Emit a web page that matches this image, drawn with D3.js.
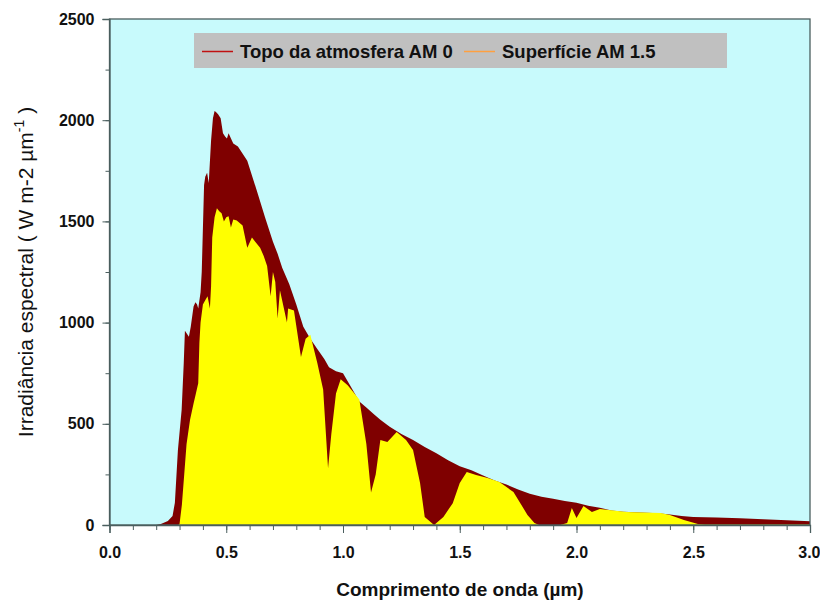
<!DOCTYPE html>
<html>
<head>
<meta charset="utf-8">
<script src="https://cdn.jsdelivr.net/npm/d3@7"></script>
<style>
  html, body { margin: 0; padding: 0; background: #ffffff; }
  svg { display: block; }
  text { font-family: "Liberation Sans", Arial, sans-serif; }
</style>
</head>
<body>
<svg id="chart" width="820" height="601"></svg>
<script>
// Extraterrestrial spectrum (AM 0): wavelength (µm) and irradiance (W m-2 µm-1)
const wlAM0 = [0.00, 0.20, 0.22, 0.25, 0.27, 0.28, 0.293, 0.309, 0.318, 0.323, 0.34, 0.348, 0.36, 0.368, 0.375, 0.38, 0.39, 0.395, 0.405, 0.41, 0.418, 0.425, 0.435, 0.443, 0.45, 0.456, 0.465, 0.476, 0.486, 0.495, 0.503, 0.51, 0.53, 0.55, 0.59, 0.63, 0.666, 0.70, 0.72, 0.74, 0.77, 0.80, 0.83, 0.86, 0.89, 0.92, 0.94, 0.97, 1.00, 1.03, 1.07, 1.10, 1.13, 1.16, 1.20, 1.25, 1.30, 1.35, 1.40, 1.45, 1.50, 1.55, 1.60, 1.65, 1.70, 1.75, 1.80, 1.85, 1.90, 1.95, 2.00, 2.05, 2.10, 2.15, 2.20, 2.30, 2.35, 2.40, 2.45, 2.50, 2.60, 2.70, 2.80, 2.90, 3.00];
const irrAM0 = [0, 0, 5, 20, 45, 110, 370, 570, 800, 960, 930, 980, 1080, 1100, 1090, 1070, 1150, 1250, 1680, 1720, 1740, 1690, 1900, 2010, 2045, 2040, 2030, 2010, 1935, 1920, 1910, 1935, 1885, 1870, 1800, 1655, 1520, 1400, 1340, 1270, 1190, 1090, 980, 920, 870, 820, 780, 760, 750, 690, 610, 580, 550, 520, 485, 450, 420, 385, 355, 320, 290, 270, 245, 220, 200, 175, 155, 140, 130, 118, 110, 95, 85, 72, 65, 60, 58, 52, 45, 40, 37, 33, 28, 23, 18];

// Ground-level spectrum (AM 1.5)
const wlAM15 = [0.00, 0.295, 0.30, 0.31, 0.32, 0.33, 0.345, 0.36, 0.37, 0.38, 0.385, 0.39, 0.40, 0.41, 0.42, 0.43, 0.435, 0.44, 0.45, 0.46, 0.47, 0.48, 0.49, 0.50, 0.51, 0.52, 0.53, 0.545, 0.57, 0.59, 0.61, 0.645, 0.66, 0.675, 0.69, 0.70, 0.71, 0.72, 0.73, 0.76, 0.765, 0.79, 0.82, 0.84, 0.86, 0.89, 0.915, 0.936, 0.95, 0.97, 0.99, 1.02, 1.07, 1.10, 1.12, 1.14, 1.16, 1.19, 1.23, 1.27, 1.30, 1.33, 1.35, 1.39, 1.43, 1.47, 1.50, 1.53, 1.57, 1.62, 1.67, 1.73, 1.79, 1.82, 1.84, 1.93, 1.96, 1.98, 2.00, 2.03, 2.066, 2.10, 2.215, 2.36, 2.40, 2.46, 2.52, 2.55, 3.00];
const irrAM15 = [0, 0, 5, 100, 250, 400, 520, 600, 650, 700, 900, 1000, 1090, 1110, 1130, 1070, 1180, 1420, 1520, 1565, 1550, 1540, 1500, 1520, 1525, 1470, 1510, 1505, 1480, 1370, 1420, 1370, 1330, 1280, 1130, 1250, 1200, 1020, 1160, 1000, 1070, 1060, 830, 920, 940, 800, 670, 280, 450, 650, 720, 690, 620, 400, 160, 250, 420, 410, 460, 420, 370, 207, 40, 0, 40, 108, 207, 262, 247, 232, 212, 163, 50, 10, 0, 0, 10, 84, 35, 94, 64, 79, 64, 59, 50, 25, 5, 2, 2];

const xTicks = [0.0, 0.5, 1.0, 1.5, 2.0, 2.5, 3.0];
const yTicks = [0, 500, 1000, 1500, 2000, 2500];
const seriesNames = ["Topo da atmosfera AM 0", "Superfície AM 1.5"];

const svg = d3.select("#chart");
const plotLeft = 109.5, plotRight = 810, plotTop = 19, plotBottom = 525;

const x = d3.scaleLinear().domain([0, 3]).range([plotLeft, plotRight]);
const y = d3.scaleLinear().domain([0, 2500]).range([plotBottom, plotTop]);

// plot background
svg.append("rect")
  .attr("x", plotLeft).attr("y", plotTop)
  .attr("width", plotRight - plotLeft).attr("height", plotBottom - plotTop)
  .attr("fill", "#c8fafc");

const area = d3.area()
  .x(d => x(d[0]))
  .y0(y(0))
  .y1(d => y(d[1]));

svg.append("path")
  .datum(d3.zip(wlAM0, irrAM0))
  .attr("d", area)
  .attr("fill", "#7f0000");

svg.append("path")
  .datum(d3.zip(wlAM15, irrAM15))
  .attr("d", area)
  .attr("fill", "#ffff00");

const axisColor = "#4a5e5e";

// frame
svg.append("rect")
  .attr("x", plotLeft).attr("y", plotTop)
  .attr("width", plotRight - plotLeft).attr("height", plotBottom - plotTop)
  .attr("fill", "none")
  .attr("stroke", axisColor)
  .attr("stroke-width", 1.3);

// x axis: minor then major ticks
const xMinor = d3.range(0, 3.0001, 0.1);
svg.append("g")
  .attr("transform", `translate(0,${plotBottom})`)
  .call(d3.axisBottom(x).tickValues(xMinor).tickSize(5).tickFormat(""))
  .call(g => g.select(".domain").remove())
  .call(g => g.selectAll("line").attr("stroke", axisColor));
const gx = svg.append("g")
  .attr("transform", `translate(0,${plotBottom})`)
  .call(d3.axisBottom(x).tickValues(xTicks).tickSize(8).tickPadding(14).tickFormat(d3.format(".1f")));
gx.select(".domain").attr("stroke", axisColor).attr("stroke-width", 1.3);
gx.selectAll("line").attr("stroke", axisColor);
gx.selectAll("text")
  .attr("font-size", 16).attr("font-weight", "bold").attr("fill", "#111")
  .attr("font-family", "Liberation Sans, Arial, sans-serif");
// keep the last label inside the page
gx.selectAll("text").filter(d => d === 3.0).attr("text-anchor", "end").attr("dx", 10);

// y axis
const yMinor = d3.range(0, 2501, 250);
svg.append("g")
  .attr("transform", `translate(${plotLeft},0)`)
  .call(d3.axisLeft(y).tickValues(yMinor).tickSize(4).tickFormat(""))
  .call(g => g.select(".domain").remove())
  .call(g => g.selectAll("line").attr("stroke", axisColor));
const gy = svg.append("g")
  .attr("transform", `translate(${plotLeft},0)`)
  .call(d3.axisLeft(y).tickValues(yTicks).tickSize(7).tickPadding(8).tickFormat(d3.format("d")));
gy.select(".domain").attr("stroke", axisColor).attr("stroke-width", 1.3);
gy.selectAll("line").attr("stroke", axisColor);
gy.selectAll("text")
  .attr("font-size", 16).attr("font-weight", "bold").attr("fill", "#111")
  .attr("font-family", "Liberation Sans, Arial, sans-serif");

// axis titles
svg.append("text")
  .attr("x", 460).attr("y", 596)
  .attr("text-anchor", "middle")
  .attr("font-size", 19).attr("font-weight", "bold").attr("fill", "#111")
  .text("Comprimento de onda (µm)");

const yTitle = svg.append("text")
  .attr("transform", "translate(33,272) rotate(-90)")
  .attr("text-anchor", "middle")
  .attr("font-size", 21).attr("fill", "#111");
yTitle.append("tspan").text("Irradiância espectral ( W m-2 µm");
yTitle.append("tspan").attr("font-size", 14).attr("dy", -9).text("-1");
yTitle.append("tspan").attr("dy", 9).text(" )");

// legend
const legend = svg.append("g");
legend.append("rect")
  .attr("x", 194).attr("y", 33).attr("width", 533).attr("height", 35)
  .attr("fill", "#c0c0c0");
const legendItems = [
  { name: seriesNames[0], color: "#c01010", x0: 202 },
  { name: seriesNames[1], color: "#ffa040", x0: 464 }
];
legendItems.forEach(it => {
  legend.append("line")
    .attr("x1", it.x0).attr("x2", it.x0 + 31)
    .attr("y1", 51.5).attr("y2", 51.5)
    .attr("stroke", it.color).attr("stroke-width", 1.5);
  legend.append("text")
    .attr("x", it.x0 + 38).attr("y", 58)
    .attr("font-size", 18.5).attr("font-weight", "bold").attr("fill", "#111")
    .text(it.name);
});
</script>
</body>
</html>
